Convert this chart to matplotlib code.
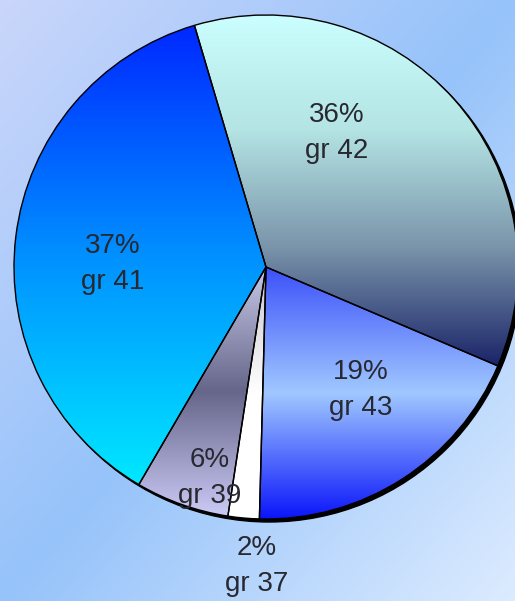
# Pizza com degradê por fatia

import numpy as np
import matplotlib.pyplot as plt
from matplotlib.colors import LinearSegmentedColormap
from matplotlib.patches import Circle

plt.rcParams['font.family'] = ['Liberation Sans', 'DejaVu Sans']

grupos = ['gr 42', 'gr 43', 'gr 37', 'gr 39', 'gr 41']
percentuais = [36, 19, 2, 6, 37]

# cores de cada fatia, de cima para baixo
gradientes = [
	['#ccffff', '#b4e4e4', '#7a94aa', '#1a2468'],
	['#3c50fa', '#a0c8ff', '#0a14fa'],
	['#c4c4cc', '#ffffff', '#ffffff'],
	['#c8c8e8', '#66668a', '#cacaf6'],
	['#0028ff', '#0090ff', '#00e8ff'],
]

# posição dos rótulos em relação ao centro (pixels)
pos_rotulos = [(71, 134), (95, -123), (-9, -299), (-56, -211), (-153, 3)]

centro = (266, 334)
raio = 252

fig = plt.figure(figsize=(5.15, 6.01), dpi=100)
ax = fig.add_axes([0, 0, 1, 1])

# fundo em degradê diagonal
fundo = LinearSegmentedColormap.from_list('fundo', ['#cad6fa', '#96c3fa', '#dcebff'])
yy, xx = np.mgrid[0:1:300j, 0:1:300j]
ax.imshow((xx + yy) / 2, cmap=fundo, extent=[0, 515, 0, 601], origin='upper',
	aspect='auto', zorder=0)

# sombra
ax.add_patch(Circle((centro[0] + 3, centro[1] - 3), raio, color='black', zorder=1))

fatias, _ = ax.pie(percentuais, startangle=106.5, counterclock=False, center=centro,
	radius=raio, frame=True,
	wedgeprops=dict(facecolor='none', edgecolor='black', linewidth=1.0, zorder=3))

for fatia, cores in zip(fatias, gradientes):
	v = fatia.get_path().vertices
	cmap = LinearSegmentedColormap.from_list('f', cores)
	grad = np.linspace(0, 1, 256).reshape(-1, 1)
	im = ax.imshow(grad, cmap=cmap, extent=[v[:, 0].min(), v[:, 0].max(), v[:, 1].min(), v[:, 1].max()],
		origin='upper', aspect='auto', zorder=2)
	im.set_clip_path(fatia)

for g, p, (dx, dy) in zip(grupos, percentuais, pos_rotulos):
	ax.text(centro[0] + dx, centro[1] + dy, str(p) + '%\n' + g, ha='center', va='center',
		fontsize=20, linespacing=1.5, color='#282830', zorder=4)

ax.set_xlim(0, 515)
ax.set_ylim(0, 601)
ax.axis('off')

plt.savefig('out.png', dpi=100)
